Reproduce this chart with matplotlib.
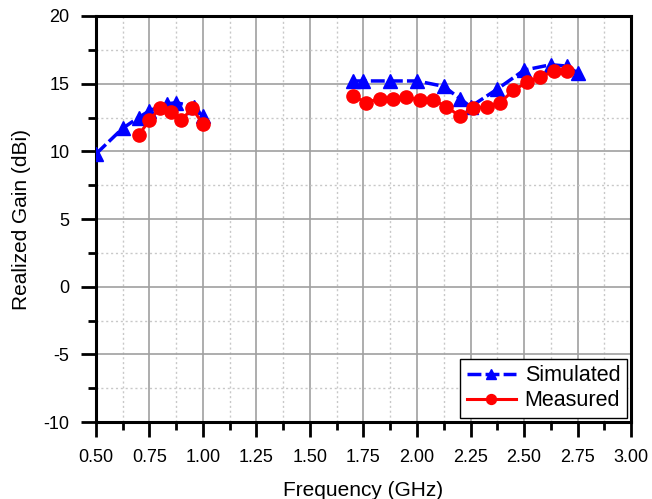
import matplotlib
matplotlib.use("Agg")
import matplotlib.pyplot as plt
from matplotlib.ticker import MultipleLocator
import numpy as np

plt.rcParams['font.family'] = ['Liberation Sans', 'DejaVu Sans']
plt.rcParams['axes.unicode_minus'] = False

# simulated gain, two bands
sim_freq = [0.5, 0.625, 0.7, 0.75, 0.83, 0.875, 0.96, 1.0,
            1.7, 1.75, 1.875, 2.0, 2.125, 2.2, 2.25, 2.375, 2.5, 2.625, 2.7, 2.75]
sim_gain = [9.8, 11.7, 12.5, 13.0, 13.5, 13.6, 13.3, 12.6,
            15.2, 15.2, 15.2, 15.2, 14.8, 13.9, 13.3, 14.6, 16.0, 16.4, 16.3, 15.8]

# measured gain, two bands
meas_freq = [0.7, 0.75, 0.8, 0.85, 0.9, 0.95, 1.0,
             1.7, 1.7625, 1.825, 1.8875, 1.95, 2.0125, 2.075, 2.1375, 2.2,
             2.2625, 2.325, 2.3875, 2.45, 2.5125, 2.575, 2.6375, 2.7]
meas_gain = [11.2, 12.3, 13.2, 12.9, 12.3, 13.2, 12.0,
             14.1, 13.6, 13.9, 13.9, 14.0, 13.8, 13.8, 13.3, 12.6,
             13.2, 13.3, 13.6, 14.5, 15.1, 15.5, 15.9, 15.9]

# gap between the bands
band_break = 1.35

def split_band(f, g):
    f = np.array(f, dtype=float)
    g = np.array(g, dtype=float)
    idx = np.searchsorted(f, band_break)
    f = np.insert(f, idx, np.nan)
    g = np.insert(g, idx, np.nan)
    return f, g

fig = plt.figure(figsize=(6.52, 4.99), dpi=100)
ax = fig.add_axes([0.147, 0.154, 0.821, 0.814])

sf, sg = split_band(sim_freq, sim_gain)
mf, mg = split_band(meas_freq, meas_gain)

ax.plot(sf, sg, color='#0000ff', linestyle=(0, (4, 1.2)), linewidth=2.5,
        marker='^', markersize=10, label='Simulated', zorder=3)
ax.plot(mf, mg, color='#ff0000', linestyle='-', linewidth=2.2,
        marker='o', markersize=9.5, label='Measured', zorder=4)

ax.set_xlim(0.5, 3.0)
ax.set_ylim(-10, 20)
ax.xaxis.set_major_locator(MultipleLocator(0.25))
ax.xaxis.set_minor_locator(MultipleLocator(0.125))
ax.yaxis.set_major_locator(MultipleLocator(5))
ax.yaxis.set_minor_locator(MultipleLocator(2.5))
ax.xaxis.set_major_formatter(matplotlib.ticker.FormatStrFormatter('%.2f'))

ax.grid(True, which='major', color='#a0a0a0', linewidth=1.2, linestyle='-')
ax.grid(True, which='minor', color='#c8c8c8', linewidth=1.0, linestyle=(0, (1.5, 2)))
ax.set_axisbelow(True)

for s in ax.spines.values():
    s.set_linewidth(2.2)
ax.tick_params(which='major', direction='out', length=11, width=2,
               labelsize=13, pad=8)
ax.tick_params(which='minor', direction='out', length=5.5, width=2)
ax.tick_params(top=False, right=False, which='both')

ax.set_xlabel('Frequency (GHz)', fontsize=15, labelpad=11)
ax.set_ylabel('Realized Gain (dBi)', fontsize=15, labelpad=9)

leg = ax.legend(loc='lower right', fontsize=15.5, frameon=True, fancybox=False,
                edgecolor='black', handlelength=2.3, borderpad=0.3,
                labelspacing=0.2, handletextpad=0.4, borderaxespad=0.2,
                markerscale=0.75)
leg.get_frame().set_linewidth(1.0)
leg.get_frame().set_alpha(1)

fig.savefig('out.png', dpi=100)
